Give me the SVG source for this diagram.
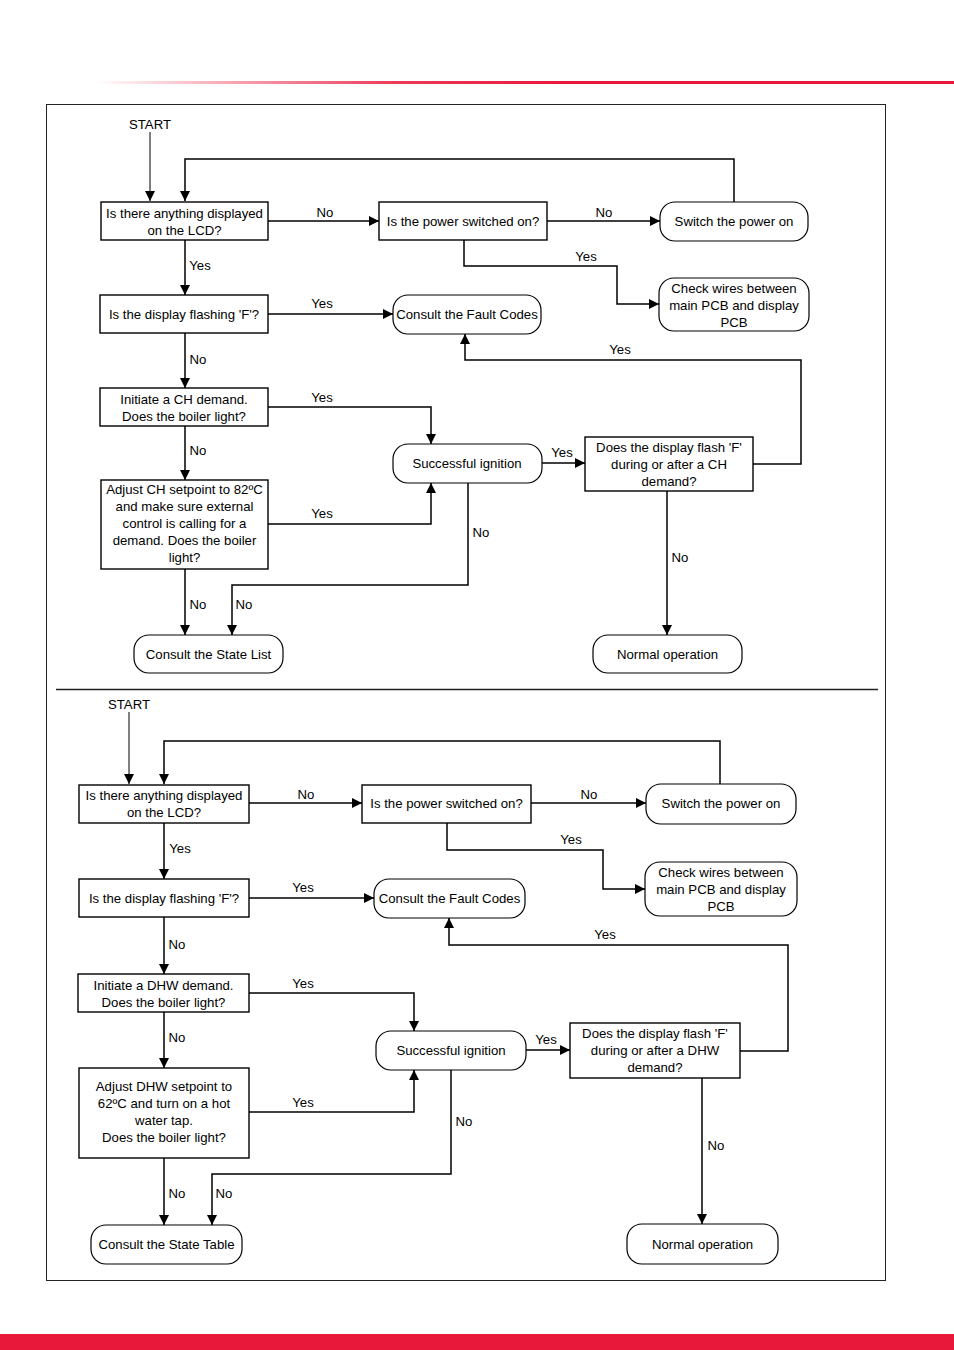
<svg xmlns="http://www.w3.org/2000/svg" width="954" height="1350" viewBox="0 0 954 1350">
<defs>
<linearGradient id="redfade" x1="95" y1="0" x2="954" y2="0" gradientUnits="userSpaceOnUse">
<stop offset="0" stop-color="#E8173A" stop-opacity="0"/>
<stop offset="0.35" stop-color="#E8173A" stop-opacity="0.85"/>
<stop offset="0.55" stop-color="#E8173A" stop-opacity="1"/>
<stop offset="1" stop-color="#E8173A" stop-opacity="1"/>
</linearGradient>
<marker id="ah" viewBox="0 0 10 10" refX="10" refY="5" markerWidth="11" markerHeight="10" markerUnits="userSpaceOnUse" orient="auto">
<path d="M0,0 L10,5 L0,10 Z" fill="#000"/>
</marker>
</defs>
<style>
.box{fill:#fff;stroke:#000;stroke-width:1.4}
.rnd{fill:#fff;stroke:#000;stroke-width:1.2}
.t{font-family:"Liberation Sans",Arial,sans-serif;font-size:13.2px;fill:#000;text-anchor:middle}
.lbl{font-family:"Liberation Sans",Arial,sans-serif;font-size:13.2px;fill:#000;text-anchor:middle}
.c{fill:none;stroke:#000;stroke-width:1.5}
.ca{fill:none;stroke:#000;stroke-width:1.5;marker-end:url(#ah)}
.thin{fill:none;stroke:#000;stroke-width:1;marker-end:url(#ah)}
</style>
<rect x="0" y="0" width="954" height="1350" fill="#fff"/>
<rect x="95" y="81" width="859" height="3" fill="url(#redfade)"/>
<rect x="0" y="1334" width="954" height="16" fill="#E8183A"/>
<rect x="46.5" y="104.5" width="839" height="1176" fill="none" stroke="#222" stroke-width="1"/>
<line x1="56" y1="689.5" x2="878" y2="689.5" stroke="#222" stroke-width="1.5"/>

<g id="connectors">
<!-- top -->
<path class="thin" d="M150,132 V201"/>
<path class="ca" d="M734,202 V159 H185 V201"/>
<path class="ca" d="M268,221 H379"/>
<path class="ca" d="M547,221 H660"/>
<path class="ca" d="M464,240 V266 H617 V304 H659"/>
<path class="ca" d="M185,240 V295"/>
<path class="ca" d="M268,314 H393"/>
<path class="ca" d="M185,333 V388"/>
<path class="ca" d="M268,407 H431 V444"/>
<path class="ca" d="M185,426 V480"/>
<path class="ca" d="M268,524 H431 V483"/>
<path class="ca" d="M542,463 H585"/>
<path class="ca" d="M753,464 H801 V360 H465 V334"/>
<path class="ca" d="M667,491 V635"/>
<path class="ca" d="M185,569 V635"/>
<path class="ca" d="M468,483 V585 H232 V635"/>
<!-- bottom -->
<path class="thin" d="M129,712 V784"/>
<path class="ca" d="M720,784 V741 H164 V784"/>
<path class="ca" d="M249,803 H362"/>
<path class="ca" d="M531,803 H646"/>
<path class="ca" d="M447,823 V850 H603 V889 H645"/>
<path class="ca" d="M164,823 V879"/>
<path class="ca" d="M249,898 H374"/>
<path class="ca" d="M164,917 V974"/>
<path class="ca" d="M249,993 H414 V1031"/>
<path class="ca" d="M164,1012 V1068"/>
<path class="ca" d="M249,1112 H414 V1070"/>
<path class="ca" d="M526,1050 H570"/>
<path class="ca" d="M740,1051 H788 V945 H449 V918"/>
<path class="ca" d="M702,1078 V1224"/>
<path class="ca" d="M164,1158 V1225"/>
<path class="ca" d="M451,1070 V1174 H212 V1225"/>
</g>

<g id="labels">
<text class="lbl" x="150" y="129">START</text>
<text class="lbl" x="325" y="217">No</text>
<text class="lbl" x="604" y="217">No</text>
<text class="lbl" x="586" y="261">Yes</text>
<text class="lbl" x="200" y="270">Yes</text>
<text class="lbl" x="322" y="308">Yes</text>
<text class="lbl" x="620" y="354">Yes</text>
<text class="lbl" x="198" y="364">No</text>
<text class="lbl" x="322" y="402">Yes</text>
<text class="lbl" x="198" y="455">No</text>
<text class="lbl" x="562" y="457">Yes</text>
<text class="lbl" x="322" y="518">Yes</text>
<text class="lbl" x="481" y="537">No</text>
<text class="lbl" x="680" y="562">No</text>
<text class="lbl" x="198" y="609">No</text>
<text class="lbl" x="244" y="609">No</text>

<text class="lbl" x="129" y="709">START</text>
<text class="lbl" x="306" y="799">No</text>
<text class="lbl" x="589" y="799">No</text>
<text class="lbl" x="571" y="844">Yes</text>
<text class="lbl" x="180" y="853">Yes</text>
<text class="lbl" x="303" y="892">Yes</text>
<text class="lbl" x="605" y="939">Yes</text>
<text class="lbl" x="177" y="949">No</text>
<text class="lbl" x="303" y="988">Yes</text>
<text class="lbl" x="177" y="1042">No</text>
<text class="lbl" x="546" y="1044">Yes</text>
<text class="lbl" x="303" y="1107">Yes</text>
<text class="lbl" x="464" y="1126">No</text>
<text class="lbl" x="716" y="1150">No</text>
<text class="lbl" x="177" y="1198">No</text>
<text class="lbl" x="224" y="1198">No</text>
</g>

<!-- top nodes -->
<g id="t-lcd"><rect class="box" x="101" y="202" width="167" height="38"/>
<text class="t" x="184.5" y="217.5">Is there anything displayed</text><text class="t" x="184.5" y="234.5">on the LCD?</text></g>
<g id="t-power"><rect class="box" x="379" y="202" width="168" height="38"/>
<text class="t" x="463" y="225.5">Is the power switched on?</text></g>
<g id="t-switch"><rect class="rnd" x="660" y="202" width="148" height="39" rx="15"/>
<text class="t" x="734" y="226">Switch the power on</text></g>
<g id="t-wires"><rect class="rnd" x="659" y="278" width="150" height="53" rx="15"/>
<text class="t" x="734" y="292.5">Check wires between</text><text class="t" x="734" y="309.5">main PCB and display</text><text class="t" x="734" y="326.5">PCB</text></g>
<g id="t-flash"><rect class="box" x="100" y="295" width="168" height="38"/>
<text class="t" x="184" y="318.5">Is the display flashing 'F'?</text></g>
<g id="t-fault"><rect class="rnd" x="393" y="295" width="148" height="39" rx="15"/>
<text class="t" x="467" y="318.5">Consult the Fault Codes</text></g>
<g id="t-init"><rect class="box" x="100" y="388" width="168" height="38"/>
<text class="t" x="184" y="403.5">Initiate a CH demand.</text><text class="t" x="184" y="420.5">Does the boiler light?</text></g>
<g id="t-ign"><rect class="rnd" x="393" y="444" width="149" height="39" rx="15"/>
<text class="t" x="467" y="467.5">Successful ignition</text></g>
<g id="t-adjust"><rect class="box" x="101" y="480" width="167" height="89"/>
<text class="t" x="184.5" y="494">Adjust CH setpoint to 82ºC</text><text class="t" x="184.5" y="511">and make sure external</text><text class="t" x="184.5" y="528">control is calling for a</text><text class="t" x="184.5" y="545">demand. Does the boiler</text><text class="t" x="184.5" y="562">light?</text></g>
<g id="t-dflash"><rect class="box" x="585" y="437" width="168" height="54"/>
<text class="t" x="669" y="451.5">Does the display flash 'F'</text><text class="t" x="669" y="468.5">during or after a CH</text><text class="t" x="669" y="485.5">demand?</text></g>
<g id="t-normal"><rect class="rnd" x="593" y="635" width="149" height="38" rx="15"/>
<text class="t" x="667.5" y="658.5">Normal operation</text></g>
<g id="t-state"><rect class="rnd" x="134" y="635" width="149" height="38" rx="15"/>
<text class="t" x="208.5" y="658.5">Consult the State List</text></g>

<!-- bottom nodes -->
<g id="b-lcd"><rect class="box" x="79" y="785" width="170" height="38"/>
<text class="t" x="164" y="800">Is there anything displayed</text><text class="t" x="164" y="817">on the LCD?</text></g>
<g id="b-power"><rect class="box" x="362" y="785" width="169" height="38"/>
<text class="t" x="446.5" y="808">Is the power switched on?</text></g>
<g id="b-switch"><rect class="rnd" x="646" y="784" width="150" height="40" rx="15"/>
<text class="t" x="721" y="808">Switch the power on</text></g>
<g id="b-wires"><rect class="rnd" x="645" y="862" width="152" height="54" rx="15"/>
<text class="t" x="721" y="876.5">Check wires between</text><text class="t" x="721" y="893.5">main PCB and display</text><text class="t" x="721" y="910.5">PCB</text></g>
<g id="b-flash"><rect class="box" x="79" y="879" width="170" height="38"/>
<text class="t" x="164" y="902.5">Is the display flashing 'F'?</text></g>
<g id="b-fault"><rect class="rnd" x="374" y="879" width="151" height="39" rx="15"/>
<text class="t" x="449.5" y="902.5">Consult the Fault Codes</text></g>
<g id="b-init"><rect class="box" x="78" y="974" width="171" height="38"/>
<text class="t" x="163.5" y="989.5">Initiate a DHW demand.</text><text class="t" x="163.5" y="1006.5">Does the boiler light?</text></g>
<g id="b-ign"><rect class="rnd" x="376" y="1031" width="150" height="39" rx="15"/>
<text class="t" x="451" y="1054.5">Successful ignition</text></g>
<g id="b-adjust"><rect class="box" x="79" y="1068" width="170" height="90"/>
<text class="t" x="164" y="1090.5">Adjust DHW setpoint to</text><text class="t" x="164" y="1107.5">62ºC and turn on a hot</text><text class="t" x="164" y="1124.5">water tap.</text><text class="t" x="164" y="1142">Does the boiler light?</text></g>
<g id="b-dflash"><rect class="box" x="570" y="1023" width="170" height="55"/>
<text class="t" x="655" y="1037.5">Does the display flash 'F'</text><text class="t" x="655" y="1054.5">during or after a DHW</text><text class="t" x="655" y="1071.5">demand?</text></g>
<g id="b-normal"><rect class="rnd" x="627" y="1224" width="151" height="40" rx="15"/>
<text class="t" x="702.5" y="1248.5">Normal operation</text></g>
<g id="b-state"><rect class="rnd" x="91" y="1225" width="151" height="39" rx="15"/>
<text class="t" x="166.5" y="1248.5">Consult the State Table</text></g>
</svg>
